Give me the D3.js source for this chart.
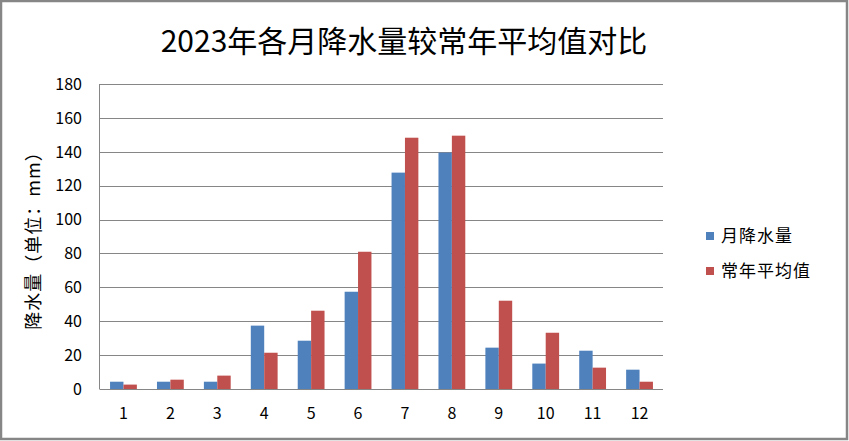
<!DOCTYPE html>
<html lang="zh">
<head>
<meta charset="utf-8">
<title>2023年各月降水量较常年平均值对比</title>
<script src="https://cdn.jsdelivr.net/npm/d3@7/dist/d3.min.js"></script>
<style>
  html, body { margin: 0; padding: 0; background: #fff; }
  svg { display: block; }
  text { font-family: "Noto Sans CJK SC", "Noto Sans", sans-serif; fill: #000; }
</style>
</head>
<body>
<div id="chart"></div>
<script>
// data
var months = ["1", "2", "3", "4", "5", "6", "7", "8", "9", "10", "11", "12"];
var rainfall2023 = [4.3, 4.3, 4.3, 37.4, 28.5, 57.4, 127.7, 139.5, 24.4, 15.0, 22.6, 11.4];
var normalMean = [2.6, 5.5, 7.9, 21.4, 46.2, 81.0, 148.3, 149.5, 52.1, 33.2, 12.6, 4.3];
var seriesNames = ["月降水量", "常年平均值"];
var yTicks = [0, 20, 40, 60, 80, 100, 120, 140, 160, 180];

var width = 849, height = 441;
var plot = { left: 100, right: 663, top: 84, bottom: 389 };
var colors = ["#4F81BD", "#C0504D"];

var svg = d3.select("#chart").append("svg")
    .attr("width", width)
    .attr("height", height);

// outer frame
svg.append("rect")
    .attr("x", 1).attr("y", 1)
    .attr("width", width - 3).attr("height", height - 3)
    .attr("fill", "#fff")
    .attr("stroke", "#868686")
    .attr("stroke-width", 2.5);

var x = d3.scaleBand()
    .domain(months)
    .range([plot.left, plot.right])
    .paddingInner(1.5 / 3.5)
    .paddingOuter(0.75 / 3.5);

var xs = d3.scaleBand()
    .domain([0, 1])
    .range([0, x.bandwidth()]);

var y = d3.scaleLinear()
    .domain([0, 180])
    .range([plot.bottom, plot.top]);

// gridlines
svg.append("g")
    .selectAll("line")
    .data(yTicks)
    .enter().append("line")
    .attr("x1", plot.left).attr("x2", plot.right)
    .attr("y1", function(d) { return Math.round(y(d)) + 0.5; })
    .attr("y2", function(d) { return Math.round(y(d)) + 0.5; })
    .attr("stroke", "#868686")
    .attr("stroke-width", 1);

// y axis line
svg.append("line")
    .attr("x1", plot.left - 0.5).attr("x2", plot.left - 0.5)
    .attr("y1", plot.top).attr("y2", plot.bottom + 0.5)
    .attr("stroke", "#868686");

// bars
var seriesData = [rainfall2023, normalMean];
seriesData.forEach(function(vals, si) {
  svg.append("g")
      .selectAll("rect")
      .data(vals)
      .enter().append("rect")
      .attr("x", function(d, i) { return x(months[i]) + xs(si); })
      .attr("width", xs.bandwidth())
      .attr("y", function(d) { return y(d); })
      .attr("height", function(d) { return y(0) - y(d); })
      .attr("fill", colors[si]);
});

// y tick labels
svg.append("g")
    .selectAll("text")
    .data(yTicks)
    .enter().append("text")
    .attr("x", 82)
    .attr("y", function(d) { return y(d); })
    .attr("dy", "0.36em")
    .attr("text-anchor", "end")
    .style("font-size", "16px")
    .text(function(d) { return d; });

// x tick labels
svg.append("g")
    .selectAll("text")
    .data(months)
    .enter().append("text")
    .attr("x", function(d) { return x(d) + x.bandwidth() / 2; })
    .attr("y", 419)
    .attr("text-anchor", "middle")
    .style("font-size", "16px")
    .text(function(d) { return d; });

// y axis title
svg.append("text")
    .attr("transform", "translate(40,236) rotate(-90)")
    .attr("text-anchor", "middle")
    .style("font-size", "18px")
    .style("letter-spacing", "1px")
    .text("降水量（单位：mm）");

// title
svg.append("text")
    .attr("x", 404)
    .attr("y", 52)
    .attr("text-anchor", "middle")
    .style("font-size", "30px")
    .text("2023年各月降水量较常年平均值对比");

// legend
var legend = svg.append("g")
    .selectAll("g")
    .data(seriesNames)
    .enter().append("g")
    .attr("transform", function(d, i) { return "translate(706," + (232 + i * 35) + ")"; });

legend.append("rect")
    .attr("width", 8).attr("height", 8)
    .attr("fill", function(d, i) { return colors[i]; });

legend.append("text")
    .attr("x", 15)
    .attr("y", 4)
    .attr("dy", "0.36em")
    .style("font-size", "17px")
    .style("letter-spacing", "1px")
    .text(function(d) { return d; });
</script>
</body>
</html>
